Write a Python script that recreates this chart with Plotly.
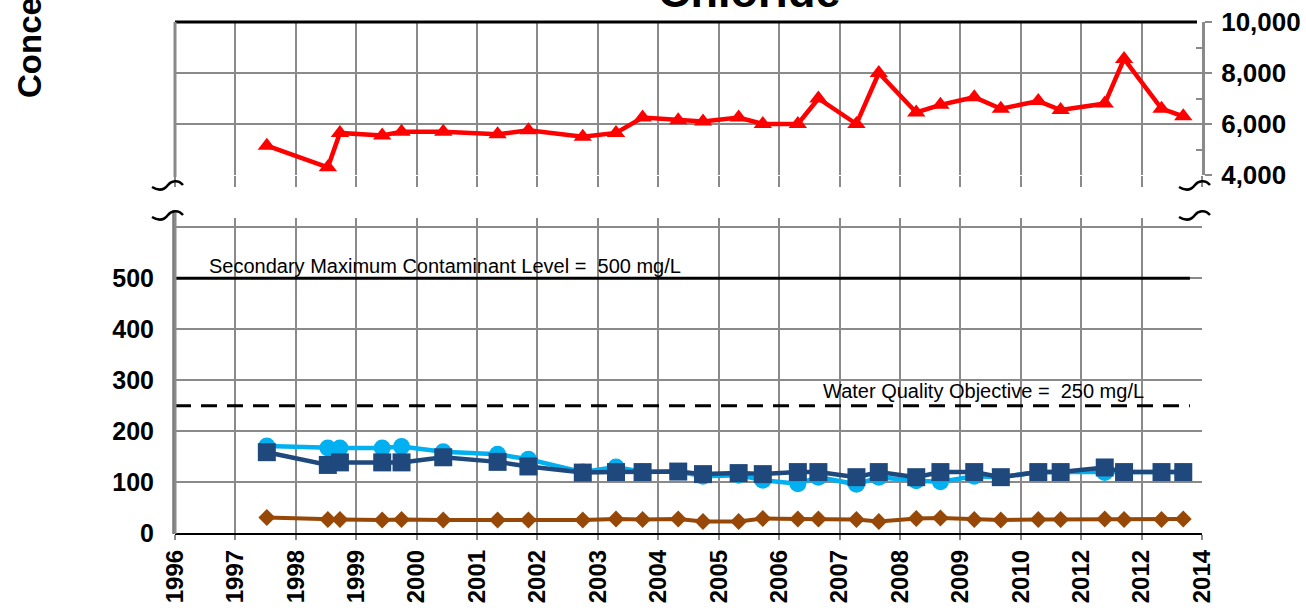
import plotly.graph_objects as go

W, H = 1306, 608

# ---------------- data ----------------
dates = [1997.52, 1998.53, 1998.73, 1999.43, 1999.75, 2000.44, 2001.34, 2001.85,
         2002.75, 2003.30, 2003.74, 2004.33, 2004.74, 2005.33, 2005.73, 2006.31,
         2006.65, 2007.28, 2007.65, 2008.27, 2008.67, 2009.23, 2009.67, 2010.29,
         2010.66, 2011.39, 2011.71, 2012.33, 2012.69]

red_series = [5150, 4300, 5650, 5550, 5700, 5700, 5600, 5750, 5500, 5650, 6250, 6150,
              6100, 6250, 6000, 6000, 7000, 6000, 8000, 6450, 6750, 7050, 6600, 6900,
              6550, 6800, 8550, 6600, 6300]

lightblue_series = [171, 167, 167, 167, 170, 160, 155, 145, 120, 130, 120, 121, 112,
                    114, 104, 97, 110, 96, 110, 103, 101, 112, 110, 120, 120, 119,
                    120, 120, 120]

darkblue_series = [159, 134, 139, 139, 139, 149, 140, 131, 119, 120, 120, 121, 116,
                   118, 116, 120, 120, 110, 120, 110, 120, 120, 110, 120, 120, 129,
                   120, 120, 120]

brown_series = [31, 27, 27, 26, 27, 26, 26, 26, 26, 28, 27, 28, 23, 23, 29, 28, 28,
                27, 23, 29, 30, 27, 26, 27, 27, 28, 27, 27, 28]

tick_years = list(range(1996, 2014))
tick_labels = ["1996", "1997", "1998", "1999", "2000", "2001", "2002", "2003", "2004",
               "2005", "2006", "2007", "2008", "2009", "2010", "2012", "2012", "2014"]

smcl_x = [1996, 2012.8]
smcl_y = [500, 500]
wqo_x = [1996, 2012.8]
wqo_y = [250, 250]

bottom_ticks = [0, 100, 200, 300, 400, 500, 600]
bottom_labels = ["0", "100", "200", "300", "400", "500", ""]
top_ticks = [4000, 6000, 8000, 10000]

# ---------------- helpers ----------------
def px(x):
    return x / W

def py(y):
    return 1 - y / H

GRID = "#8a8a8a"
FONT = "Liberation Sans, Arial, sans-serif"

fig = go.Figure()

fig.add_trace(go.Scatter(x=dates, y=red_series, xaxis="x2", yaxis="y2", mode="lines+markers",
                         line=dict(color="#FF0000", width=4.5),
                         marker=dict(symbol="triangle-up", size=16, color="#FF0000")))

fig.add_trace(go.Scatter(x=smcl_x, y=smcl_y, mode="lines",
                         line=dict(color="black", width=3)))
fig.add_trace(go.Scatter(x=wqo_x, y=wqo_y, mode="lines",
                         line=dict(color="black", width=3, dash="16px,10px")))

fig.add_trace(go.Scatter(x=dates, y=lightblue_series, mode="lines+markers",
                         line=dict(color="#00B0F0", width=4.5),
                         marker=dict(symbol="circle", size=17, color="#00B0F0")))
fig.add_trace(go.Scatter(x=dates, y=darkblue_series, mode="lines+markers",
                         line=dict(color="#1F497D", width=4.5),
                         marker=dict(symbol="square", size=18, color="#1F497D")))
fig.add_trace(go.Scatter(x=dates, y=brown_series, mode="lines+markers",
                         line=dict(color="#974806", width=4),
                         marker=dict(symbol="diamond", size=13, color="#974806")))

xdom = [px(175), px(1202)]
bold24 = dict(family=FONT, size=24, color="black", weight="bold")
bold25 = dict(family=FONT, size=25, color="black", weight="bold")
bold26 = dict(family=FONT, size=26, color="black", weight="bold")

fig.update_layout(
    width=W, height=H, template="none",
    margin=dict(l=0, r=0, t=0, b=0),
    paper_bgcolor="white", plot_bgcolor="rgba(0,0,0,0)",
    showlegend=False,
    xaxis=dict(domain=xdom, range=[1996, 2013], anchor="y",
               tickmode="array", tickvals=tick_years, ticktext=tick_labels,
               tickangle=-90, tickfont=bold24,
               showgrid=True, gridcolor=GRID, gridwidth=2,
               ticks="outside", ticklen=5, tickwidth=2, tickcolor=GRID,
               showline=True, linecolor="black", linewidth=2,
               zeroline=False, automargin=False),
    xaxis2=dict(domain=xdom, range=[1996, 2013], anchor="y2", matches="x",
                tickmode="array", tickvals=tick_years, showticklabels=False,
                showgrid=True, gridcolor=GRID, gridwidth=2,
                ticks="outside", ticklen=11, tickwidth=2, tickcolor=GRID,
                showline=False, zeroline=False, automargin=False),
    yaxis=dict(domain=[py(533.3), py(218)], range=[0, 618], anchor="x",
               tickmode="array", tickvals=bottom_ticks, ticktext=bottom_labels,
               tickfont=bold25, ticklabelstandoff=20,
               showgrid=True, gridcolor=GRID, gridwidth=2,
               ticks="", showline=False, zeroline=False, automargin=False),
    yaxis3=dict(overlaying="y", side="right", anchor="x", range=[0, 618],
                tickmode="array", tickvals=bottom_ticks, showticklabels=False,
                ticks="outside", ticklen=7, tickwidth=2, tickcolor=GRID,
                minor=dict(ticks="inside", ticklen=6, tickwidth=2, tickcolor=GRID,
                           tickmode="array", tickvals=[50, 150, 250, 350, 450, 550]),
                showgrid=False, showline=True, linecolor=GRID, linewidth=3,
                zeroline=False, automargin=False),
    yaxis2=dict(domain=[py(175), py(22)], range=[4000, 10000], anchor="x2", side="right",
                tickmode="array", tickvals=top_ticks, tickformat=",",
                tickfont=bold26, ticklabelstandoff=4,
                showgrid=True, gridcolor=GRID, gridwidth=2,
                ticks="outside", ticklen=7, tickwidth=2, tickcolor=GRID,
                minor=dict(ticks="inside", ticklen=6, tickwidth=2, tickcolor=GRID,
                           tickmode="array", tickvals=[5000, 7000, 9000]),
                showline=True, linecolor=GRID, linewidth=3,
                zeroline=False, automargin=False),
)

shapes = []
# top border of upper panel
shapes.append(dict(type="line", xref="paper", yref="paper",
                   x0=px(175), x1=px(1197), y0=py(22), y1=py(22),
                   line=dict(color="black", width=3)))
# left axis lines
shapes.append(dict(type="line", xref="paper", yref="paper",
                   x0=px(175), x1=px(175), y0=py(22), y1=py(177),
                   line=dict(color=GRID, width=3)))
shapes.append(dict(type="line", xref="paper", yref="paper",
                   x0=px(175), x1=px(175), y0=py(210), y1=py(534),
                   line=dict(color=GRID, width=3)))
shapes.append(dict(type="line", xref="paper", yref="paper",
                   x0=px(173), x1=px(173), y0=py(210), y1=py(534),
                   line=dict(color="#333333", width=1)))

def tilde(x0, y0):
    p = "M{},{} C{},{} {},{} {},{} S{},{} {},{}".format(
        px(x0), py(y0 + 1),
        px(x0 + 8), py(y0 + 6), px(x0 + 13), py(y0 + 3), px(x0 + 16), py(y0 - 1),
        px(x0 + 26), py(y0 - 7), px(x0 + 31), py(y0 - 1))
    return dict(type="path", xref="paper", yref="paper", path=p,
                line=dict(color="black", width=2.5))

shapes.append(tilde(152, 186))
shapes.append(tilde(152, 216))
shapes.append(tilde(1179, 186))
shapes.append(tilde(1179, 216))

fig.update_layout(shapes=shapes)

annos = [
    dict(text="Chloride", x=px(749), y=py(19), xref="paper", yref="paper",
         xanchor="center", yanchor="bottom", showarrow=False,
         font=dict(family=FONT, size=45, color="black", weight="bold")),
    dict(text="Concentration (mg/L)", x=px(29), y=py(100), xref="paper", yref="paper",
         xanchor="center", yanchor="bottom", showarrow=False, textangle=-90,
         font=dict(family=FONT, size=33, color="black", weight="bold")),
    dict(text="Secondary Maximum Contaminant Level =\u00a0 500 mg/L",
         x=px(207), y=py(266), xref="paper", yref="paper",
         xanchor="left", yanchor="middle", showarrow=False,
         font=dict(family=FONT, size=20, color="black")),
    dict(text="Water Quality Objective =\u00a0 250 mg/L",
         x=px(821), y=py(391), xref="paper", yref="paper",
         xanchor="left", yanchor="middle", showarrow=False,
         font=dict(family=FONT, size=20, color="black")),
]
fig.update_layout(annotations=annos)

fig.write_html("out.html", config={"displayModeBar": False},
               post_script="document.body.style.margin='0';document.body.style.overflow='hidden';")
